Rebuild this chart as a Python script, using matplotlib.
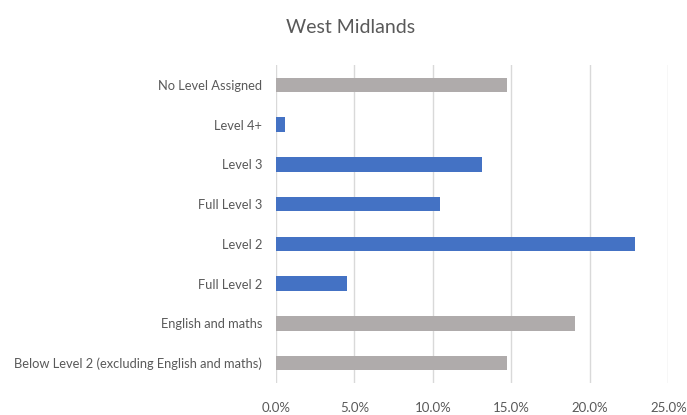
import matplotlib
matplotlib.use("Agg")
import matplotlib.pyplot as plt
from matplotlib.ticker import FuncFormatter, MultipleLocator

# categories top to bottom as shown in the chart
categories = [
    "No Level Assigned",
    "Level 4+",
    "Level 3",
    "Full Level 3",
    "Level 2",
    "Full Level 2",
    "English and maths",
    "Below Level 2 (excluding English and maths)",
]
values = [14.7, 0.6, 13.1, 10.45, 22.9, 4.55, 19.05, 14.7]
groups = ["grey", "blue", "blue", "blue", "blue", "blue", "grey", "grey"]

palette = {"blue": "#4472C4", "grey": "#AFABAB"}
text_col = "#595959"

plt.rcParams["font.family"] = ["Lato", "DejaVu Sans"]

fig = plt.figure(figsize=(6.87, 4.15), dpi=100)
ax = fig.add_axes([0.4017, 0.0771, 0.5711, 0.7663])

ypos = list(range(len(categories)))
ax.barh(ypos, values, height=0.36,
        color=[palette[g] for g in groups], zorder=3)

ax.set_ylim(len(categories) - 0.5, -0.5)
ax.set_yticks(ypos)
ax.set_yticklabels(categories, fontsize=9.3, color=text_col)

ax.set_xlim(0, 25)
ax.xaxis.set_major_locator(MultipleLocator(5))
ax.xaxis.set_major_formatter(FuncFormatter(lambda v, p: f"{v:.1f}%"))
ax.tick_params(axis="x", labelsize=9.5, labelcolor=text_col, length=0, pad=14)
ax.tick_params(axis="y", length=0, pad=10)
ax.grid(axis="x", color="#D9D9D9", linewidth=1, zorder=0)

for s in ax.spines.values():
    s.set_visible(False)

fig.suptitle("West Midlands", x=0.51, y=0.955, fontsize=14, color=text_col)

fig.savefig("out.png", dpi=100)
